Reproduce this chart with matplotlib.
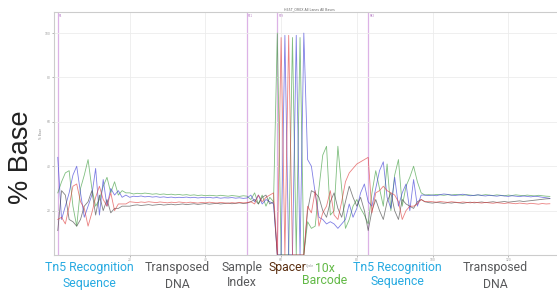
import matplotlib.pyplot as plt
import numpy as np

# base composition per cycle (percent), cycles 1..131
cycles = np.arange(1, 132)

pct_A = [28, 33, 37, 38, 22, 13, 30, 36, 43, 30, 22, 25, 31, 35, 28, 33, 27, 29, 28, 28,
         27.5, 27.8, 27.6, 27.9, 27.7, 27.4, 27.6, 27.3, 27.5, 27.2, 27.4, 27.1, 27.3, 27.0, 27.2, 26.9,
         27.1, 26.8, 27.0, 26.7, 26.9, 26.8, 26.6, 26.9, 26.7, 26.5, 26.8, 26.6, 26.4, 26.7, 26.5,
         25, 28, 23, 27, 22, 26, 24,
         100, 0, 0, 0, 98, 0, 98, 0,
         15, 12, 13, 30, 45, 49, 18, 20, 49, 30, 12, 16, 22, 25, 21, 18,
         14, 28, 38, 30, 22, 41, 20, 36, 43, 22, 31, 35, 40, 33, 28, 27,
         27.2, 27.0, 27.3, 27.1, 26.9, 27.2, 27.0, 27.3, 27.1, 26.9, 27.2, 27.0, 26.8, 27.1, 26.9, 27.2,
         27.0, 26.8, 27.1, 26.9, 26.7, 27.0, 26.8, 27.1, 26.9, 26.7, 27.0, 26.8, 26.6, 26.9, 26.7, 26.5, 26.4]

pct_C = [44, 16, 22, 28, 36, 40, 28, 17, 22, 27, 39, 18, 34, 22, 30, 27, 29, 26, 27, 26,
         26.5, 26.3, 26.6, 26.2, 26.4, 26.1, 26.3, 26.0, 26.2, 25.9, 26.1, 25.8, 26.0, 25.9, 26.1, 25.8,
         26.0, 25.7, 25.9, 25.8, 26.0, 25.7, 25.9, 25.6, 25.8, 25.7, 25.9, 25.6, 25.8, 25.5, 25.7,
         27, 24, 27, 23, 25, 24, 23,
         0, 0, 99, 0, 0, 99, 0, 100,
         43, 40, 28, 17, 16, 14, 15, 14, 12, 14, 16, 23, 17, 21, 28, 32,
         24, 22, 30, 38, 42, 26, 21, 35, 22, 28, 32, 20, 34, 22, 27, 27,
         26.8, 27.0, 26.7, 27.2, 27.5, 27.3, 27.0, 26.8, 27.1, 27.4, 27.0, 26.7, 26.9, 27.1, 26.8, 26.6,
         26.9, 26.7, 26.5, 26.8, 26.6, 26.4, 26.7, 26.5, 26.3, 26.6, 26.4, 26.2, 26.5, 26.3, 26.0, 25.8, 25.5]

pct_G = [11, 29, 27, 16, 15, 13, 16, 22, 24, 29, 18, 27, 20, 25, 19, 21, 21, 22, 22, 22,
         22.4, 22.6, 22.3, 22.5, 22.7, 22.4, 22.6, 22.8, 22.5, 22.7, 22.9, 22.6, 22.8, 23.0, 22.7, 22.9,
         23.1, 22.8, 23.0, 23.2, 22.9, 23.1, 23.3, 23.0, 23.2, 23.4, 23.1, 23.3, 23.5, 23.2, 23.4,
         24, 25, 23, 26, 27, 23, 24,
         0, 0, 0, 0, 0, 0, 0, 0,
         20, 29, 28, 26, 20, 17, 24, 28, 21, 17, 24, 31, 26, 22, 26, 20,
         11, 20, 25, 20, 16, 24, 28, 20, 16, 25, 23, 22, 21, 24, 25, 24,
         23.6, 23.4, 23.7, 23.5, 23.3, 23.6, 23.4, 23.7, 23.5, 23.3, 23.6, 23.8, 23.5, 23.7, 23.9, 23.6,
         23.8, 24.0, 23.7, 23.9, 24.1, 23.8, 24.0, 24.2, 24.4, 24.1, 24.3, 24.5, 24.7, 24.9, 25.1, 25.3, 25.4]

pct_T = [16, 17, 14, 22, 31, 32, 24, 21, 13, 19, 26, 31, 25, 22, 28, 20, 23, 23, 23, 24,
         23.8, 23.6, 23.9, 23.7, 24.0, 23.8, 23.6, 23.9, 23.7, 23.5, 23.8, 23.6, 23.9, 23.7, 23.5, 23.8,
         23.6, 23.4, 23.7, 23.5, 23.8, 23.6, 23.4, 23.7, 23.5, 23.3, 23.6, 23.4, 23.7, 23.5, 23.6,
         24, 23, 27, 24, 26, 27, 28,
         0, 98, 0, 99, 0, 0, 0, 0,
         22, 19, 29, 13, 19, 22, 29, 18, 16, 24, 33, 37, 39, 41, 42, 43,
         44, 19, 28, 29, 31, 29, 28, 27, 24, 16, 20, 22, 22, 23, 25, 24,
         24.2, 24.0, 23.8, 24.1, 23.9, 23.7, 24.0, 23.8, 23.6, 23.9, 23.7, 23.5, 23.8, 23.6, 23.4, 23.7,
         23.5, 23.3, 23.6, 23.4, 23.2, 23.5, 23.3, 23.1, 23.4, 23.2, 23.0, 23.3, 23.1, 22.9, 23.2, 23.0, 23.1]

# read segment boundaries (cycles)
boundaries = [1, 51, 59, 83]

seg_line1 = ["Tn5 Recognition", "Transposed", "Sample", "Spacer", "10x", "Tn5 Recognition", "Transposed"]
seg_line2 = ["Sequence", "DNA", "Index", "", "Barcode", "Sequence", "DNA"]
seg_colors = ["#27aae1", "#58595b", "#58595b", "#5a2e10", "#62b946", "#27aae1", "#58595b"]

W, H = 557, 290
fig = plt.figure(figsize=(W / 100, H / 100), dpi=100)
ax = fig.add_axes([54 / W, (H - 255) / H, (565 - 54) / W, (255 - 12) / H])

ax.plot(cycles, pct_A, color="#3c9c3c", lw=0.6, alpha=0.65, label="A")
ax.plot(cycles, pct_C, color="#3a3ad6", lw=0.6, alpha=0.65, label="C")
ax.plot(cycles, pct_G, color="#404040", lw=0.6, alpha=0.65, label="G")
ax.plot(cycles, pct_T, color="#e03c3c", lw=0.6, alpha=0.65, label="T")

for b in boundaries:
    ax.axvline(b, color="#dcb2e6", lw=0.9, zorder=0)
    ax.text(b + 0.3, 108.8, "R%d" % b, fontsize=1.8, color="#b070c0", va="top")

ax.set_xlim(0, 135)
ax.set_ylim(0, 109.5)
ax.set_xticks([20, 40, 60, 80, 100, 120])
ax.set_yticks([20, 40, 60, 80, 100])
ax.grid(True, color="#ececec", lw=0.6)
ax.set_axisbelow(True)
ax.tick_params(labelsize=2.2, colors="#999999", length=1.5, width=0.5, pad=1)
for s in ax.spines.values():
    s.set_color("#cccccc")
    s.set_linewidth(0.8)
ax.set_title("H65T_OR0X All Lanes All Bases", fontsize=2.3, color="#666666", pad=1.5)
ax.set_xlabel("Cycle", fontsize=2.2, color="#888888", labelpad=1)
ax.set_ylabel("% Base", fontsize=2.2, color="#888888", labelpad=1)

fig.text(21 / W, 1 - 157 / H, "% Base", rotation=90, fontsize=19.5, family="Liberation Sans",
         color="#222222", ha="center", va="center")

x_px = [89, 177, 242, 287, 325, 397, 495]
y1_px = [268, 268, 268, 268, 268, 268, 268]
y2_px = [284, 284, 282, 284, 281, 282, 284]
for i in range(len(seg_line1)):
    fig.text(x_px[i] / W, 1 - y1_px[i] / H, seg_line1[i], fontsize=8.8, family="Roboto",
             color=seg_colors[i], ha="center", va="center")
    fig.text(x_px[i] / W, 1 - y2_px[i] / H, seg_line2[i], fontsize=8.8, family="Roboto",
             color=seg_colors[i], ha="center", va="center")

fig.savefig("out.png", dpi=100)
